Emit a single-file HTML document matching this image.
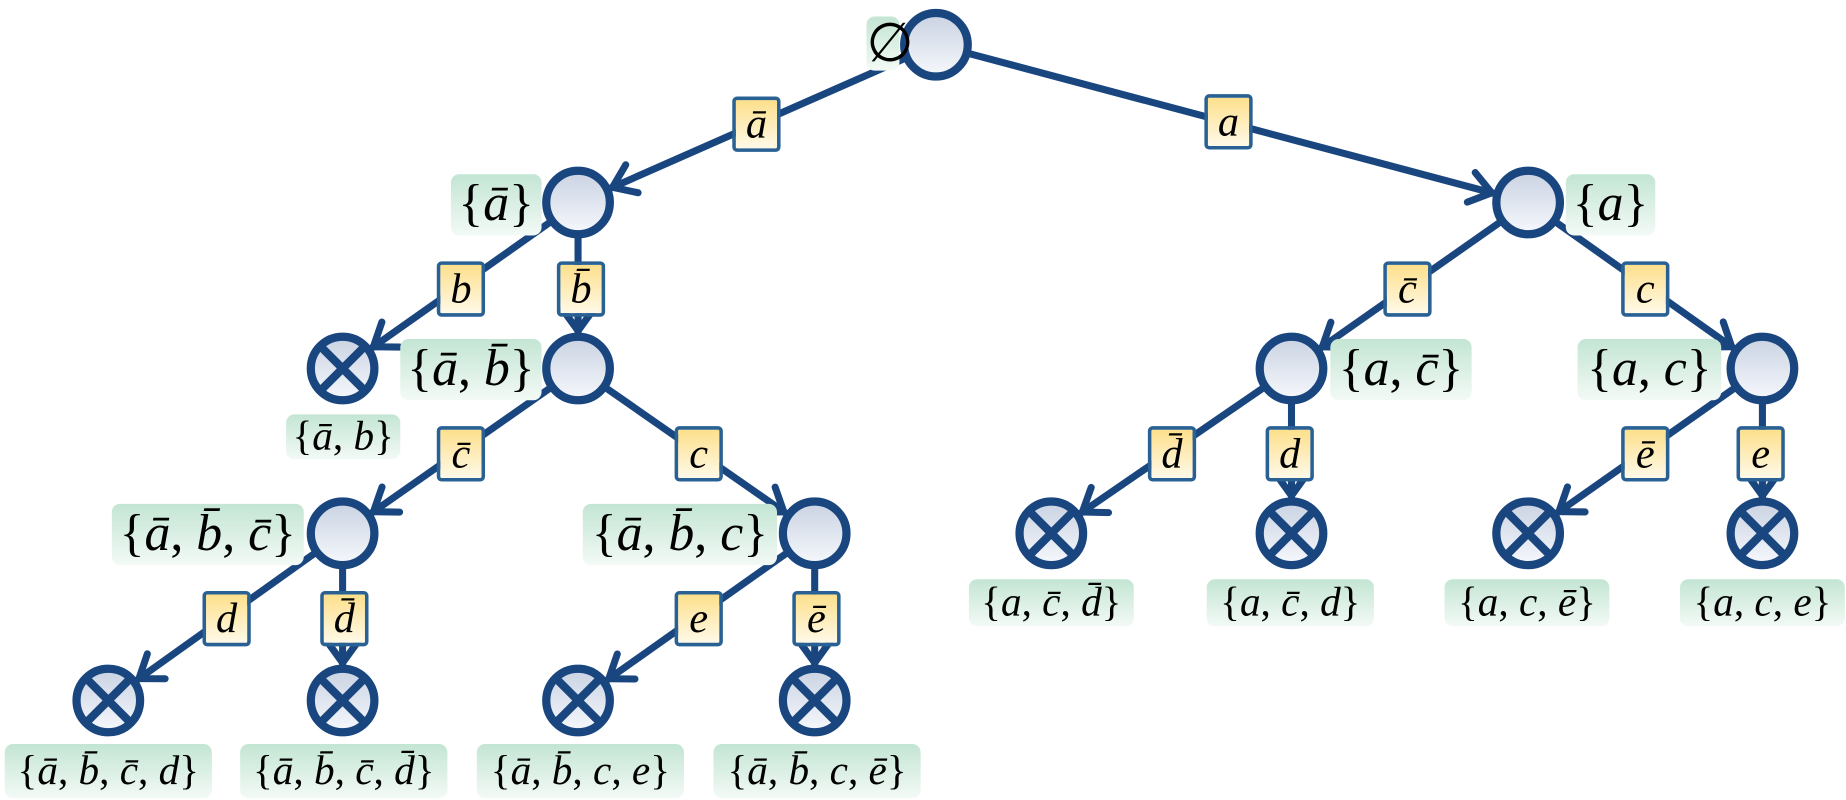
<!DOCTYPE html>
<html><head><meta charset="utf-8"><style>
html,body{margin:0;padding:0;background:#fff}
#o{position:relative;width:1846px;height:800px;overflow:hidden}
#w{position:absolute;left:0;top:0;width:1568px;height:680px;transform:scale(1.17730);transform-origin:0 0}
svg{position:absolute;left:0;top:0}
.g{position:absolute;background:linear-gradient(#c3e5d3,#f3faf6);border-radius:7px;font-family:"Liberation Serif",serif;font-style:italic;color:#000;text-align:center;white-space:nowrap}
.y{position:absolute;width:35px;height:41px;margin-left:-1px;background:linear-gradient(#fde08c,#fff9e8);border:3px solid #2a6194;border-radius:4px;font-family:"Liberation Serif",serif;font-style:italic;font-size:36px;line-height:41px;text-align:center;box-sizing:content-box}
.r{font-style:normal}
</style></head><body><div id="o"><div id="w">
<svg width="1568" height="680">
<defs>
<linearGradient id="cg" x1="0" y1="0" x2="0" y2="1"><stop offset="0" stop-color="#c9d2e2"/><stop offset="1" stop-color="#f6f8fc"/></linearGradient>
<marker id="ar" markerUnits="userSpaceOnUse" orient="auto" refX="52" refY="0" markerWidth="30" markerHeight="30" overflow="visible">
<path d="M2,-13 L20,0 L2,13" fill="none" stroke="#1a4680" stroke-width="6" stroke-linecap="round" stroke-linejoin="round"/>
</marker>
</defs>
<g stroke="#1a4680" stroke-width="6" marker-end="url(#ar)">
<line x1="795" y1="38" x2="491" y2="172"/>
<line x1="795" y1="38" x2="1298" y2="172"/>
<line x1="491" y1="172" x2="291" y2="313"/>
<line x1="491" y1="172" x2="491" y2="313"/>
<line x1="1298" y1="172" x2="1097" y2="313"/>
<line x1="1298" y1="172" x2="1497" y2="313"/>
<line x1="491" y1="313" x2="291" y2="453"/>
<line x1="491" y1="313" x2="692" y2="453"/>
<line x1="1097" y1="313" x2="893" y2="453"/>
<line x1="1097" y1="313" x2="1097" y2="453"/>
<line x1="1497" y1="313" x2="1298" y2="453"/>
<line x1="1497" y1="313" x2="1497" y2="453"/>
<line x1="291" y1="453" x2="92" y2="595"/>
<line x1="291" y1="453" x2="291" y2="595"/>
<line x1="692" y1="453" x2="491" y2="595"/>
<line x1="692" y1="453" x2="692" y2="595"/>
</g>
<g fill="url(#cg)" stroke="#1a4680" stroke-width="7">
<circle cx="795" cy="38" r="27"/>
<circle cx="491" cy="172" r="27"/>
<circle cx="1298" cy="172" r="27"/>
<circle cx="491" cy="313" r="27"/>
<circle cx="1097" cy="313" r="27"/>
<circle cx="1497" cy="313" r="27"/>
<circle cx="291" cy="453" r="27"/>
<circle cx="692" cy="453" r="27"/>
</g>
<g fill="url(#cg)" stroke="#1a4680" stroke-width="7">
<g transform="translate(291,313)"><circle r="27"/><path d="M-19,-19L19,19M19,-19L-19,19"/></g>
<g transform="translate(893,453)"><circle r="27"/><path d="M-19,-19L19,19M19,-19L-19,19"/></g>
<g transform="translate(1097,453)"><circle r="27"/><path d="M-19,-19L19,19M19,-19L-19,19"/></g>
<g transform="translate(1298,453)"><circle r="27"/><path d="M-19,-19L19,19M19,-19L-19,19"/></g>
<g transform="translate(1497,453)"><circle r="27"/><path d="M-19,-19L19,19M19,-19L-19,19"/></g>
<g transform="translate(92,595)"><circle r="27"/><path d="M-19,-19L19,19M19,-19L-19,19"/></g>
<g transform="translate(291,595)"><circle r="27"/><path d="M-19,-19L19,19M19,-19L-19,19"/></g>
<g transform="translate(491,595)"><circle r="27"/><path d="M-19,-19L19,19M19,-19L-19,19"/></g>
<g transform="translate(692,595)"><circle r="27"/><path d="M-19,-19L19,19M19,-19L-19,19"/></g>
</g>
</svg>

<div class="g" style="left:736px;top:14px;width:28px;height:46px;font-size:46px;line-height:46px;font-style:normal">∅</div>
<div class="g" style="left:383px;top:148px;width:77px;height:52px;font-size:44px;line-height:50px"><span class="r">{</span>ā<span class="r">}</span></div>
<div class="g" style="left:1330px;top:148px;width:76px;height:52px;font-size:44px;line-height:50px"><span class="r">{</span>a<span class="r">}</span></div>
<div class="g" style="left:340px;top:288px;width:120px;height:52px;font-size:44px;line-height:50px"><span class="r">{</span>ā<span class="r">, </span>b̄<span class="r">}</span></div>
<div class="g" style="left:1130px;top:288px;width:120px;height:52px;font-size:44px;line-height:50px"><span class="r">{</span>a<span class="r">, </span>c̄<span class="r">}</span></div>
<div class="g" style="left:1340px;top:288px;width:122px;height:52px;font-size:44px;line-height:50px"><span class="r">{</span>a<span class="r">, </span>c<span class="r">}</span></div>
<div class="g" style="left:95px;top:428px;width:163px;height:52px;font-size:44px;line-height:50px"><span class="r">{</span>ā<span class="r">, </span>b̄<span class="r">, </span>c̄<span class="r">}</span></div>
<div class="g" style="left:495px;top:428px;width:165px;height:52px;font-size:44px;line-height:50px"><span class="r">{</span>ā<span class="r">, </span>b̄<span class="r">, </span>c<span class="r">}</span></div>

<div class="g" style="left:243px;top:352px;width:97px;height:38px;font-size:35px;line-height:38px"><span class="r">{</span>ā<span class="r">, </span>b<span class="r">}</span></div>
<div class="g" style="left:823px;top:492px;width:140px;height:40px;font-size:35px;line-height:40px"><span class="r">{</span>a<span class="r">, </span>c̄<span class="r">, </span>d̄<span class="r">}</span></div>
<div class="g" style="left:1025px;top:492px;width:142px;height:40px;font-size:35px;line-height:40px"><span class="r">{</span>a<span class="r">, </span>c̄<span class="r">, </span>d<span class="r">}</span></div>
<div class="g" style="left:1227px;top:492px;width:140px;height:40px;font-size:35px;line-height:40px"><span class="r">{</span>a<span class="r">, </span>c<span class="r">, </span>ē<span class="r">}</span></div>
<div class="g" style="left:1427px;top:492px;width:140px;height:40px;font-size:35px;line-height:40px"><span class="r">{</span>a<span class="r">, </span>c<span class="r">, </span>e<span class="r">}</span></div>
<div class="g" style="left:4px;top:632px;width:176px;height:46px;font-size:35px;line-height:46px"><span class="r">{</span>ā<span class="r">, </span>b̄<span class="r">, </span>c̄<span class="r">, </span>d<span class="r">}</span></div>
<div class="g" style="left:204px;top:632px;width:176px;height:46px;font-size:35px;line-height:46px"><span class="r">{</span>ā<span class="r">, </span>b̄<span class="r">, </span>c̄<span class="r">, </span>d̄<span class="r">}</span></div>
<div class="g" style="left:405px;top:632px;width:176px;height:46px;font-size:35px;line-height:46px"><span class="r">{</span>ā<span class="r">, </span>b̄<span class="r">, </span>c<span class="r">, </span>e<span class="r">}</span></div>
<div class="g" style="left:606px;top:632px;width:176px;height:46px;font-size:35px;line-height:46px"><span class="r">{</span>ā<span class="r">, </span>b̄<span class="r">, </span>c<span class="r">, </span>ē<span class="r">}</span></div>

<div class="y" style="left:623px;top:82px">ā</div>
<div class="y" style="left:1024px;top:80px">a</div>
<div class="y" style="left:372px;top:222px">b</div>
<div class="y" style="left:474px;top:222px">b̄</div>
<div class="y" style="left:1176px;top:222px">c̄</div>
<div class="y" style="left:1378px;top:222px">c</div>
<div class="y" style="left:372px;top:362px">c̄</div>
<div class="y" style="left:574px;top:362px">c</div>
<div class="y" style="left:976px;top:362px">d̄</div>
<div class="y" style="left:1076px;top:362px">d</div>
<div class="y" style="left:1378px;top:362px">ē</div>
<div class="y" style="left:1476px;top:362px">e</div>
<div class="y" style="left:173px;top:502px">d</div>
<div class="y" style="left:273px;top:502px">d̄</div>
<div class="y" style="left:574px;top:502px">e</div>
<div class="y" style="left:674px;top:502px">ē</div>
</div></div></body></html>
